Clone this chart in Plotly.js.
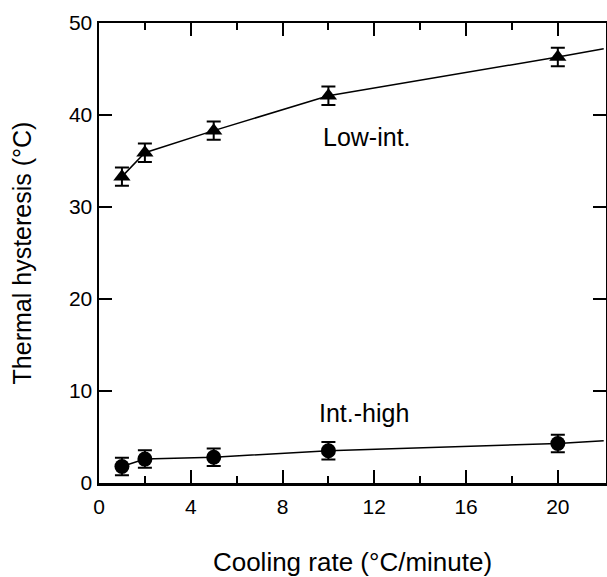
<!DOCTYPE html>
<html>
<head>
<meta charset="utf-8">
<script src="https://cdn.plot.ly/plotly-3.0.1.min.js"></script>
<style>html,body{margin:0;padding:0;background:#fff;}#chart{width:607px;height:577px;}</style>
</head>
<body>
<div id="chart"></div>
<script>
// Cooling rate (°C/minute)
const coolingRate = [1, 2, 5, 10, 20];
// Low-int. thermal hysteresis (°C)
const lowInt = [33.3, 35.9, 38.3, 42.1, 46.3];
const lowIntErr = [1.0, 1.0, 1.0, 1.0, 1.0];
// Int.-high thermal hysteresis (°C)
const intHigh = [1.8, 2.6, 2.8, 3.5, 4.3];
const intHighErr = [0.95, 0.95, 0.95, 0.95, 0.95];
// fitted line continuation to right edge
const lineX = [1, 2, 5, 10, 20, 22];
const lowIntLine = [33.3, 35.9, 38.3, 42.1, 46.3, 47.2];
const intHighLine = [1.8, 2.6, 2.8, 3.5, 4.3, 4.6];
const xTicks = [0, 4, 8, 12, 16, 20];
const yTicks = [0, 10, 20, 30, 40, 50];

const font = 'Liberation Sans, Arial, Helvetica, sans-serif';

const traces = [
  {x: lineX, y: lowIntLine, mode: 'lines', line: {color: '#000', width: 1.5}, showlegend: false},
  {x: lineX, y: intHighLine, mode: 'lines', line: {color: '#000', width: 1.5}, showlegend: false},
  {x: coolingRate, y: lowInt, mode: 'markers', marker: {symbol: 'triangle-up', size: 15, color: '#000'},
   error_y: {type: 'data', array: lowIntErr, visible: true, color: '#000', thickness: 2, width: 7}, showlegend: false},
  {x: coolingRate, y: intHigh, mode: 'markers', marker: {symbol: 'circle', size: 15, color: '#000'},
   error_y: {type: 'data', array: intHighErr, visible: true, color: '#000', thickness: 2, width: 7}, showlegend: false}
];

const layout = {
  width: 607, height: 577,
  margin: {l: 99, r: 1, t: 23, b: 94},
  paper_bgcolor: '#fff', plot_bgcolor: '#fff',
  font: {family: font, color: '#000', size: 21},
  showlegend: false,
  xaxis: {
    range: [0, 22.1], tickvals: xTicks, ticktext: xTicks.map(String),
    ticks: 'inside', ticklen: 13, tickwidth: 2, tickcolor: '#000',
    showline: true, linewidth: 2.5, linecolor: '#000', mirror: 'ticks',
    showgrid: false, zeroline: false, ticklabelstandoff: 3,
    minor: {tickvals: [2, 6, 10, 14, 18], ticks: 'inside', ticklen: 7, tickwidth: 2, tickcolor: '#000', showgrid: false},
    tickfont: {size: 21, family: font},
    title: {text: 'Cooling rate (°C/minute)', font: {size: 26, family: font}, standoff: 37}
  },
  yaxis: {
    range: [0, 50], tickvals: yTicks, ticktext: yTicks.map(String),
    ticks: 'inside', ticklen: 13, tickwidth: 2, tickcolor: '#000',
    showline: true, linewidth: 2.5, linecolor: '#000', mirror: 'ticks',
    showgrid: false, zeroline: false,
    tickfont: {size: 21, family: font},
    title: {text: 'Thermal hysteresis (°C)', font: {size: 25, family: font}, standoff: 30}
  },
  annotations: [
    {x: 11.7, y: 37.6, xref: 'x', yref: 'y', text: 'Low-int.', showarrow: false, font: {size: 25, family: font}},
    {x: 11.55, y: 7.6, xref: 'x', yref: 'y', text: 'Int.-high', showarrow: false, font: {size: 25, family: font}}
  ]
};

Plotly.newPlot('chart', traces, layout, {displayModeBar: false, staticPlot: true});
</script>
</body>
</html>
